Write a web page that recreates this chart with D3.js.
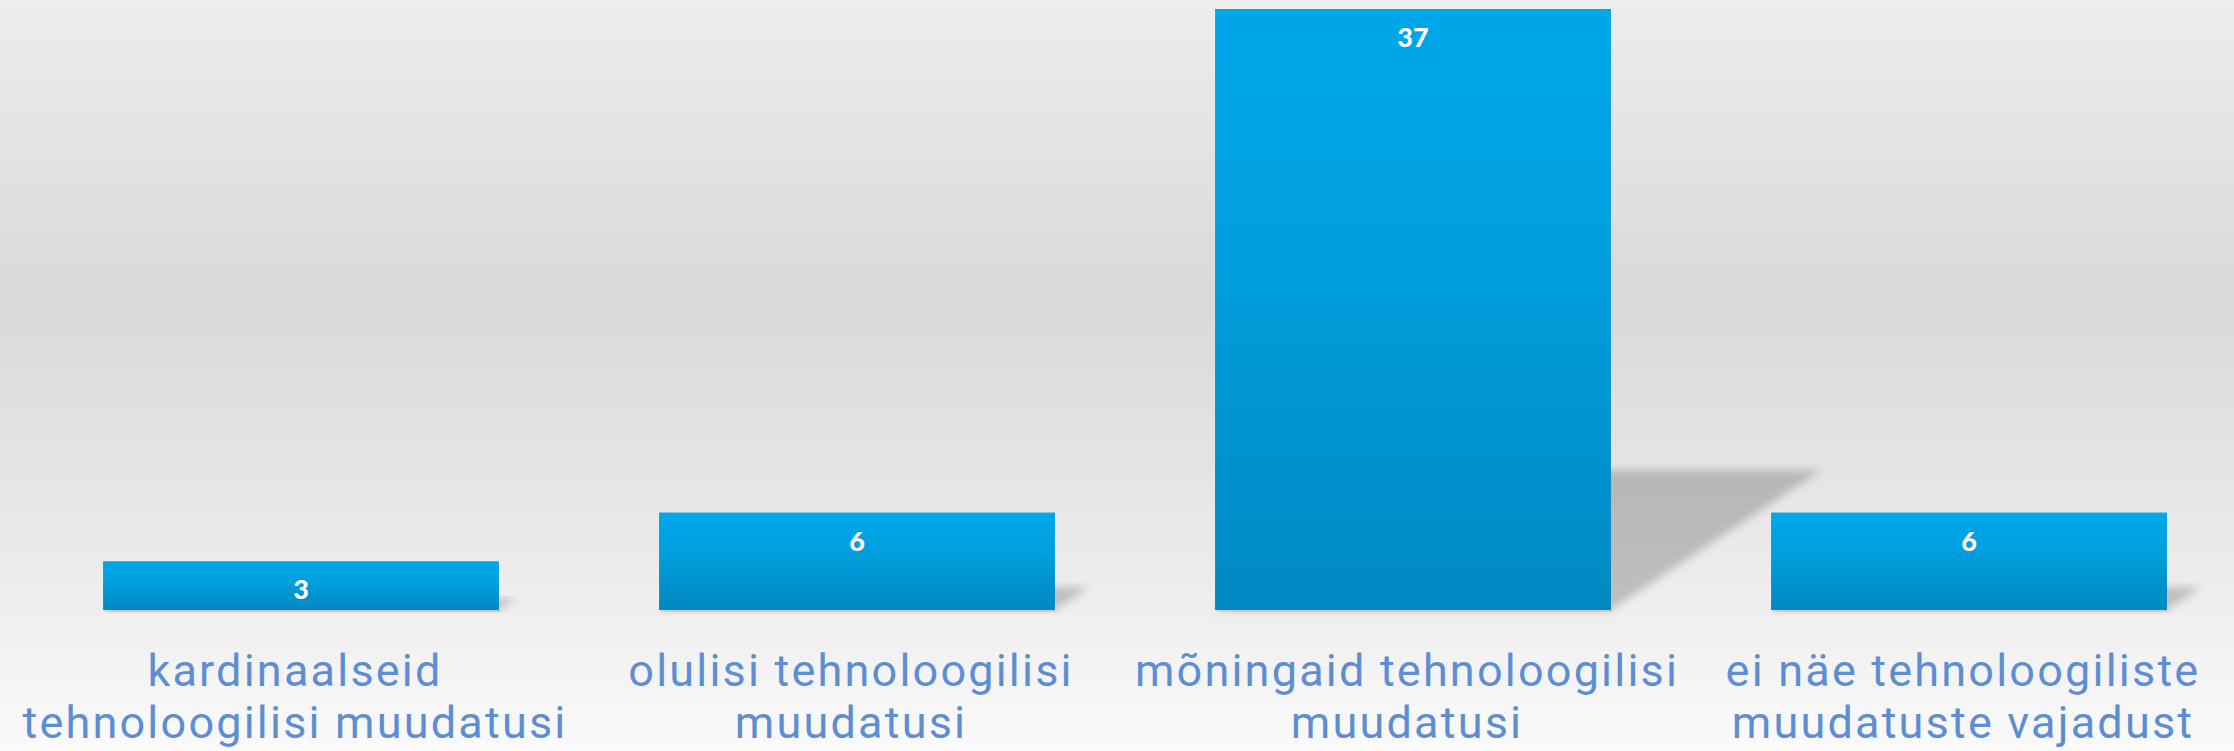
<!DOCTYPE html>
<html>
<head>
<meta charset="utf-8">
<script src="https://cdn.jsdelivr.net/npm/d3@7"></script>
<style>
  html, body { margin: 0; padding: 0; overflow: hidden; }
  svg { display: block; }
</style>
</head>
<body>
<svg id="chart"></svg>
<script>
// data
var categories = [
  "kardinaalseid tehnoloogilisi muudatusi",
  "olulisi tehnoloogilisi muudatusi",
  "mõningaid tehnoloogilisi muudatusi",
  "ei näe tehnoloogiliste muudatuste vajadust"
];
var values = [3, 6, 37, 6];

var width = 2234, height = 751;
var baseY = 610, topY = 9;

var svg = d3.select("#chart")
    .attr("width", width)
    .attr("height", height);

var defs = svg.append("defs");

//background gradient
var bg = defs.append("linearGradient")
    .attr("id", "bgGrad")
    .attr("x1", 0).attr("y1", 0).attr("x2", 0).attr("y2", 1);
bg.append("stop").attr("offset", "0%").attr("stop-color", "#ededed");
bg.append("stop").attr("offset", "40%").attr("stop-color", "#d9d9d9");
bg.append("stop").attr("offset", "75%").attr("stop-color", "#ebebeb");
bg.append("stop").attr("offset", "100%").attr("stop-color", "#fafafa");

//bar gradient
var barGrad = defs.append("linearGradient")
    .attr("id", "barGrad")
    .attr("x1", 0).attr("y1", 0).attr("x2", 0).attr("y2", 1);
barGrad.append("stop").attr("offset", "0%").attr("stop-color", "#00a7e9");
barGrad.append("stop").attr("offset", "35%").attr("stop-color", "#00a1e0");
barGrad.append("stop").attr("offset", "100%").attr("stop-color", "#0089c2");

//shadow blur
defs.append("filter")
    .attr("id", "blur")
    .attr("x", "-20%").attr("y", "-20%").attr("width", "140%").attr("height", "140%")
  .append("feGaussianBlur")
    .attr("stdDeviation", 4);

svg.append("rect")
    .attr("width", width)
    .attr("height", height)
    .attr("fill", "url(#bgGrad)");

//scales
var x = d3.scaleBand()
    .domain(categories)
    .range([23, 2247])
    .paddingInner(0.288)
    .paddingOuter(0.144);

var y = d3.scaleLinear()
    .domain([0, d3.max(values)])
    .range([baseY, topY]);

var data = categories.map(function(c, i) { return { cat: c, value: values[i] }; });

//perspective shadows
svg.selectAll("path.shadow")
    .data(data)
    .enter()
    .append("path")
    .attr("class", "shadow")
    .attr("d", function(d) {
        var h = baseY - y(d.value);
        var x0 = x(d.cat), x1 = x(d.cat) + x.bandwidth();
        var dx = 0.35 * h, dy = 0.233 * h;
        return "M" + x0 + "," + baseY + "L" + x1 + "," + baseY +
               "L" + (x1 + dx) + "," + (baseY - dy) + "L" + (x0 + dx) + "," + (baseY - dy) + "Z";
    })
    .attr("fill", "#000")
    .attr("fill-opacity", 0.2)
    .attr("filter", "url(#blur)");

//thin line under bars
svg.selectAll("rect.under")
    .data(data)
    .enter()
    .append("rect")
    .attr("class", "under")
    .attr("x", function(d) { return x(d.cat) + 2; })
    .attr("y", baseY)
    .attr("width", x.bandwidth())
    .attr("height", 2)
    .attr("fill", "#000")
    .attr("fill-opacity", 0.08);

//bars
svg.selectAll("rect.bar")
    .data(data)
    .enter()
    .append("rect")
    .attr("class", "bar")
    .attr("x", function(d) { return x(d.cat); })
    .attr("y", function(d) { return y(d.value); })
    .attr("width", x.bandwidth())
    .attr("height", function(d) { return baseY - y(d.value); })
    .attr("fill", "url(#barGrad)");

//value labels
svg.selectAll("text.val")
    .data(data)
    .enter()
    .append("text")
    .attr("class", "val")
    .attr("x", function(d) { return x(d.cat) + x.bandwidth() / 2; })
    .attr("y", function(d) { return y(d.value) + 38; })
    .attr("text-anchor", "middle")
    .style("font", "900 27px Lato")
    .style("fill", "#ffffff")
    .text(function(d) { return d.value; });

//category labels, wrapped
var maxLine = 580;
var labels = svg.selectAll("text.cat")
    .data(data)
    .enter()
    .append("text")
    .attr("class", "cat")
    .attr("x", function(d) { return x(d.cat) + x.bandwidth() / 2 - 6; })
    .attr("y", 686)
    .attr("text-anchor", "middle")
    .style("font", "400 45px Roboto")
    .style("letter-spacing", "2.2px")
    .style("fill", "#5d8ed3");

labels.each(function(d) {
    var t = d3.select(this);
    var cx = t.attr("x");
    var words = d.cat.split(" ");
    var line = [];
    var lineNo = 0;
    var tspan = t.append("tspan").attr("x", cx).attr("y", 686);
    words.forEach(function(w) {
        line.push(w);
        tspan.text(line.join(" "));
        if (tspan.node().getComputedTextLength() > maxLine && line.length > 1) {
            line.pop();
            tspan.text(line.join(" "));
            line = [w];
            lineNo++;
            tspan = t.append("tspan").attr("x", cx).attr("y", 686 + lineNo * 52).text(w);
        }
    });
});
</script>
</body>
</html>
